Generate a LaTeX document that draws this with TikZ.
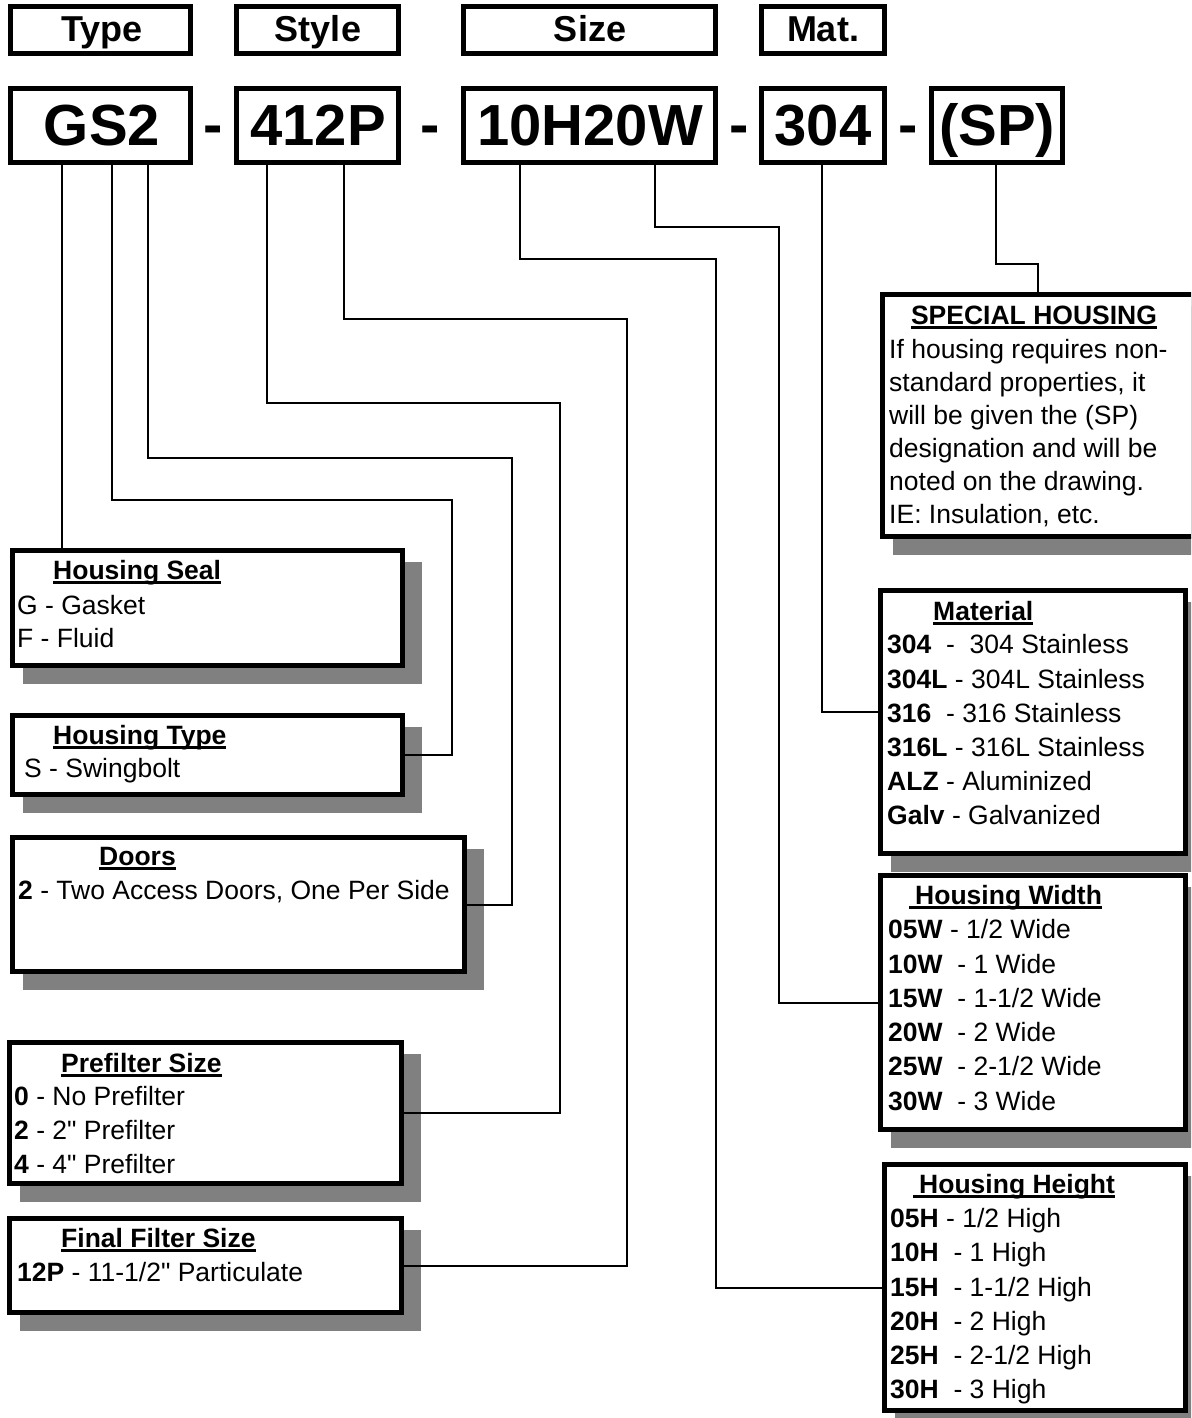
\documentclass[tikz,border=0pt]{standalone}
\usepackage{fontspec}
\setmainfont{Liberation Sans}[Ligatures=TeXOff]
\newcommand\bodyf{\fontsize{26.5}{33}\selectfont}
\newcommand\hdrf{\fontsize{36}{40}\selectfont\bfseries}
\newcommand\codef{\fontsize{58}{62}\selectfont\bfseries}
\newcommand\myul[1]{\setbox0\hbox{#1}\rlap{\rule[-4.6pt]{\wd0}{2.8pt}}\box0}
\definecolor{shadowc}{HTML}{808080}
\tikzset{
  boxst/.style={draw, line width=5pt, fill=white, inner sep=0pt, outer sep=2.5pt},
  txt/.style={inner sep=0pt, anchor=base west, font=\bodyf},
  ttl/.style={inner sep=0pt, anchor=base west, font=\bodyf\bfseries},
  hdr/.style={inner sep=0pt, anchor=base, font=\hdrf},
  code/.style={inner sep=0pt, anchor=base, font=\codef},
  conn/.style={line width=2pt}
}
% name, x1, y1, x2, y2 (outer extents)
\newcommand\mkbox[5]{\node[boxst, minimum width={#4-#2-5}, minimum height={#5-#3-5}] (#1) at ({(#2+#4)/2},{(#3+#5)/2}) {};}
\newcommand\mkshbox[5]{\fill[shadowc] ({#2+13},{#3+14}) rectangle ({#4+17},{#5+16});\mkbox{#1}{#2}{#3}{#4}{#5}}
\begin{document}
\begin{tikzpicture}[x=1pt,y=-1pt]
\useasboundingbox (0,0) rectangle (1191,1418);
\clip (0,0) rectangle (1191,1418);
\fill[white] (0,0) rectangle (1191,1418);

% header boxes
\mkbox{htype}{8}{4}{193}{56}
\mkbox{hstyle}{234}{4}{401}{56}
\mkbox{hsize}{461}{4}{718}{56}
\mkbox{hmat}{759}{4}{887}{56}
\node[hdr] (thtype) at (102,42) {Type};
\node[hdr] (thstyle) at (318,42) {Style};
\node[hdr] (thsize) at (590,42) {Size};
\node[hdr] (thmat) at (823,42) {Mat.};

% code boxes
\mkbox{gs2}{8}{86}{193}{165}
\mkbox{p412}{234}{86}{401}{165}
\mkbox{sz}{461}{86}{718}{165}
\mkbox{m304}{759}{86}{887}{165}
\mkbox{sp}{929}{86}{1065}{165}
\node[code] (tgs2) at (102,146) {GS2};
\node[code] (tp412) at (318,146) {412P};
\node[code] (tsz) at (590,146) {10H20W};
\node[code] (tm304) at (823,146) {304};
\node[code] (tsp) at (997,146) {(SP)};
\node[code] (d1) at (213,145) {-};
\node[code] (d2) at (430,145) {-};
\node[code] (d3) at (739,145) {-};
\node[code] (d4) at (908,145) {-};

% left boxes
\mkshbox{seal}{10}{548}{405}{668}
\node[ttl] (tseal) at (53,579) {\myul{Housing Seal}};
\node[txt] (seal1) at (17,614) {G - Gasket};
\node[txt] (seal2) at (17,647) {F - Fluid};

\mkshbox{hty}{10}{713}{405}{797}
\node[ttl] (thty) at (53,744) {\myul{Housing Type}};
\node[txt] (hty1) at (24,777) {S - Swingbolt};

\mkshbox{doors}{10}{835}{467}{974}
\node[ttl] (tdoors) at (99,865) {\myul{Doors}};
\node[txt] (doors1) at (18,899) {\textbf{2} - Two Access Doors, One Per Side};

\mkshbox{pre}{7}{1040}{404}{1186}
\node[ttl] (tpre) at (61,1072) {\myul{Prefilter Size}};
\node[txt] (pre1) at (14,1105) {\textbf{0} - No Prefilter};
\node[txt] (pre2) at (14,1139) {\textbf{2} - 2" Prefilter};
\node[txt] (pre3) at (14,1173) {\textbf{4} - 4" Prefilter};

\mkshbox{fin}{7}{1216}{404}{1315}
\node[ttl] (tfin) at (61,1247) {\myul{Final Filter Size}};
\node[txt] (fin1) at (17,1281) {\textbf{12P} - 11-1/2" Particulate};

% right boxes
\mkshbox{spec}{880}{292}{1196}{539}
\node[ttl, anchor=base] (tspec) at (1034,324) {\myul{SPECIAL HOUSING}};
\node[txt] (spec1) at (889,358) {If housing requires non-};
\node[txt] (spec2) at (889,391) {standard properties, it};
\node[txt] (spec3) at (889,424) {will be given the (SP)};
\node[txt] (spec4) at (889,457) {designation and will be};
\node[txt] (spec5) at (889,490) {noted on the drawing.};
\node[txt] (spec6) at (889,523) {IE: Insulation, etc.};

\mkshbox{mat}{878}{588}{1188}{856}
\node[ttl] (tmat) at (933,620) {\myul{Material}};
\node[txt] (mat1) at (887,653) {\textbf{304}~ - ~304 Stainless};
\node[txt] (mat2) at (887,688) {\textbf{304L} - 304L Stainless};
\node[txt] (mat3) at (887,722) {\textbf{316}~ - 316 Stainless};
\node[txt] (mat4) at (887,756) {\textbf{316L} - 316L Stainless};
\node[txt] (mat5) at (887,790) {\textbf{ALZ} - Aluminized};
\node[txt] (mat6) at (887,824) {\textbf{Galv} - Galvanized};

\mkshbox{wid}{878}{873}{1188}{1132}
\node[ttl] (twid) at (909,904) {\myul{\hspace{6pt}Housing Width}};
\node[txt] (wid1) at (888,938) {\textbf{05W} - 1/2 Wide};
\node[txt] (wid2) at (888,973) {\textbf{10W}~ - 1 Wide};
\node[txt] (wid3) at (888,1007) {\textbf{15W}~ - 1-1/2 Wide};
\node[txt] (wid4) at (888,1041) {\textbf{20W}~ - 2 Wide};
\node[txt] (wid5) at (888,1075) {\textbf{25W}~ - 2-1/2 Wide};
\node[txt] (wid6) at (888,1110) {\textbf{30W}~ - 3 Wide};

\mkshbox{hgt}{882}{1162}{1188}{1413}
\node[ttl] (thgt) at (913,1193) {\myul{\hspace{6pt}Housing Height}};
\node[txt] (hgt1) at (890,1227) {\textbf{05H} - 1/2 High};
\node[txt] (hgt2) at (890,1261) {\textbf{10H}~ - 1 High};
\node[txt] (hgt3) at (890,1296) {\textbf{15H}~ - 1-1/2 High};
\node[txt] (hgt4) at (890,1330) {\textbf{20H}~ - 2 High};
\node[txt] (hgt5) at (890,1364) {\textbf{25H}~ - 2-1/2 High};
\node[txt] (hgt6) at (890,1398) {\textbf{30H}~ - 3 High};

% connector coordinates
\coordinate (xa) at (62,0);
\coordinate (xb) at (112,0);
\coordinate (xc) at (148,0);
\coordinate (xd) at (267,0);
\coordinate (xe) at (344,0);
\coordinate (xf) at (520,0);
\coordinate (xg) at (655,0);
\coordinate (xh) at (822,0);
\coordinate (xi) at (996,0);
\coordinate (tb) at (452,500);
\coordinate (tc) at (512,458);
\coordinate (td) at (560,403);
\coordinate (te) at (627,319);
\coordinate (tf) at (716,259);
\coordinate (tg) at (779,227);
\coordinate (th) at (822,712);
\coordinate (ti) at (1038,264);

\draw[conn] (gs2.south -| xa) -- (seal.north -| xa);
\draw[conn] (gs2.south -| xb) |- (tb) |- (hty.east);
\draw[conn] (gs2.south -| xc) |- (tc) |- (doors.east);
\draw[conn] (p412.south -| xd) |- (td) |- (pre.east);
\draw[conn] (p412.south -| xe) |- (te) |- (fin.east);
\draw[conn] (sz.south -| xf) |- (tf) |- (hgt.west);
\draw[conn] (sz.south -| xg) |- (tg) |- (wid.west);
\draw[conn] (m304.south -| xh) -- (th) -- (mat.west |- th);
\draw[conn] (sp.south -| xi) |- (ti) -- (spec.north);
\end{tikzpicture}
\end{document}
